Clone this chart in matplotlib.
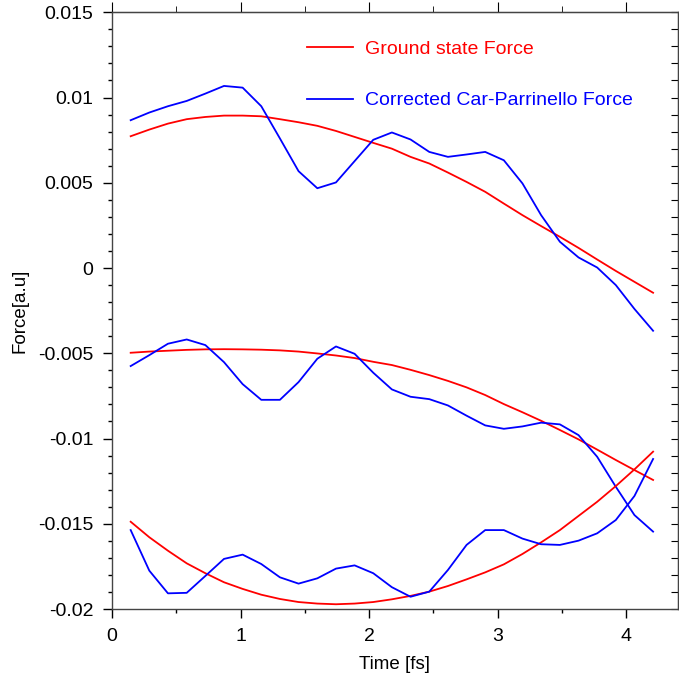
import numpy as np
import matplotlib
matplotlib.use("Agg")
from matplotlib import pyplot as plt
from matplotlib.ticker import MultipleLocator, FuncFormatter

plt.rcParams['font.family'] = ['Liberation Sans', 'DejaVu Sans']

# time axis: 29 steps of 6 a.u. (0.1451 fs)
time_fs = [0.145, 0.290, 0.435, 0.581, 0.726, 0.871, 1.016, 1.161, 1.306, 1.451,
           1.597, 1.742, 1.887, 2.032, 2.177, 2.322, 2.468, 2.613, 2.758, 2.903,
           3.048, 3.193, 3.338, 3.484, 3.629, 3.774, 3.919, 4.064, 4.209]

# ground state force, three components
gs_1 = [0.00773, 0.00812, 0.00847, 0.00873, 0.00886, 0.00894, 0.00894, 0.00890, 0.00873, 0.00855,
        0.00834, 0.00804, 0.00769, 0.00734, 0.00700, 0.00652, 0.00613, 0.00560, 0.00505, 0.00447,
        0.00378, 0.00310, 0.00246, 0.00183, 0.00118, 0.00050, -0.00017, -0.00081, -0.00145]
gs_2 = [-0.00497, -0.00490, -0.00485, -0.00480, -0.00477, -0.00476, -0.00477, -0.00479, -0.00483, -0.00490,
        -0.00501, -0.00513, -0.00528, -0.00550, -0.00569, -0.00597, -0.00628, -0.00662, -0.00700, -0.00745,
        -0.00798, -0.00846, -0.00896, -0.00950, -0.01005, -0.01065, -0.01126, -0.01185, -0.01243]
gs_3 = [-0.01488, -0.01579, -0.01658, -0.01732, -0.01790, -0.01843, -0.01882, -0.01916, -0.01941, -0.01959,
        -0.01968, -0.01972, -0.01968, -0.01959, -0.01943, -0.01923, -0.01898, -0.01865, -0.01826, -0.01785,
        -0.01738, -0.01677, -0.01609, -0.01537, -0.01454, -0.01371, -0.01279, -0.01181, -0.01077]

# corrected Car-Parrinello force, three components
cp_1 = [0.00867, 0.00912, 0.00949, 0.00980, 0.01023, 0.01068, 0.01058, 0.00949, 0.00760, 0.00568,
        0.00468, 0.00502, 0.00627, 0.00752, 0.00795, 0.00754, 0.00681, 0.00652, 0.00666, 0.00681,
        0.00632, 0.00496, 0.00310, 0.00154, 0.00062, 0.00003, -0.00100, -0.00240, -0.00368]
cp_2 = [-0.00575, -0.00511, -0.00444, -0.00419, -0.00452, -0.00552, -0.00681, -0.00773, -0.00773, -0.00669,
        -0.00532, -0.00460, -0.00503, -0.00614, -0.00712, -0.00755, -0.00769, -0.00806, -0.00866, -0.00923,
        -0.00943, -0.00929, -0.00907, -0.00917, -0.00980, -0.01107, -0.01283, -0.01449, -0.01546]
cp_3 = [-0.01537, -0.01775, -0.01908, -0.01905, -0.01806, -0.01706, -0.01681, -0.01736, -0.01814, -0.01851,
        -0.01820, -0.01763, -0.01744, -0.01790, -0.01872, -0.01928, -0.01898, -0.01771, -0.01624, -0.01537,
        -0.01537, -0.01587, -0.01620, -0.01624, -0.01599, -0.01556, -0.01478, -0.01337, -0.01120]

fig = plt.figure(figsize=(6.79, 6.82), dpi=100)
ax = fig.add_axes([0.165, 0.107, 0.833, 0.875])

lw = 1.3
ax.plot(time_fs, gs_1, color='red', lw=lw, label='Ground state Force')
ax.plot(time_fs, cp_1, color='blue', lw=lw, label='Corrected Car-Parrinello Force')
ax.plot(time_fs, gs_2, color='red', lw=lw)
ax.plot(time_fs, cp_2, color='blue', lw=lw)
ax.plot(time_fs, gs_3, color='red', lw=lw)
ax.plot(time_fs, cp_3, color='blue', lw=lw)

ax.set_xlim(0, 4.4)
ax.set_ylim(-0.02, 0.015)
ax.xaxis.set_major_locator(MultipleLocator(1))
ax.xaxis.set_minor_locator(MultipleLocator(0.5))
ax.yaxis.set_major_locator(MultipleLocator(0.005))
ax.yaxis.set_minor_locator(MultipleLocator(0.001))
ax.yaxis.set_major_formatter(FuncFormatter(lambda v, p: '%g' % round(v, 6)))
ax.tick_params(which='major', direction='out', length=6.5, width=1, labelsize=14, pad=7)
ax.tick_params(which='minor', direction='out', length=3, width=1)

for s in ax.spines.values():
    s.set_color('#444444')
    s.set_linewidth(1)

# top ticks outward, right ticks inward
top = ax.secondary_xaxis('top')
top.xaxis.set_major_locator(MultipleLocator(1))
top.xaxis.set_minor_locator(MultipleLocator(0.5))
top.tick_params(which='major', direction='out', length=7.5, labeltop=False)
top.tick_params(which='minor', direction='out', length=4)
right = ax.secondary_yaxis('right')
right.yaxis.set_major_locator(MultipleLocator(0.001))
right.tick_params(which='major', direction='in', length=5, labelright=False)

ax.set_xlabel('Time [fs]', fontsize=13.5, labelpad=8)
ax.set_ylabel('Force[a.u]', fontsize=13.5, labelpad=7)

leg = ax.legend(loc='upper left', bbox_to_anchor=(0.313, 0.983), frameon=False,
                fontsize=14, handlelength=2.4, labelspacing=1.76, handletextpad=0.62)
for line, text in zip(leg.get_lines(), leg.get_texts()):
    text.set_color(line.get_color())

fig.savefig('out.png', dpi=100)
